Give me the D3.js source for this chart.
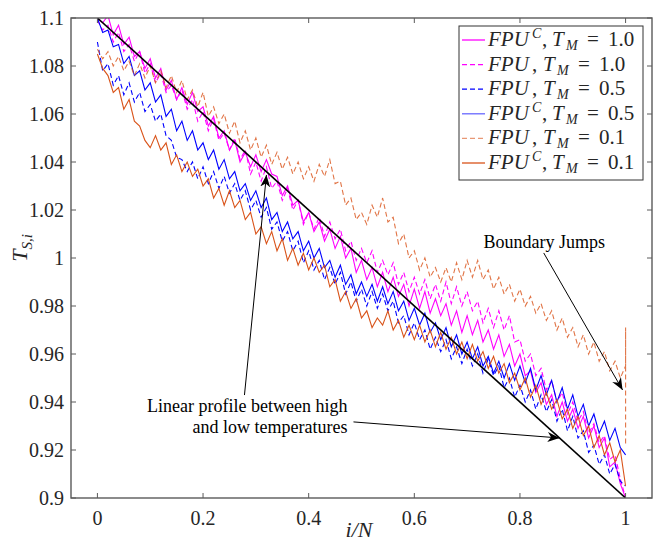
<!DOCTYPE html>
<html><head><meta charset="utf-8">
<script src="https://cdn.jsdelivr.net/npm/d3@7/dist/d3.min.js"></script>
<style>body{margin:0;background:#fff}</style></head>
<body>
<svg id="c" width="657" height="542"></svg>
<script>
// ---------- data ----------
const xTicks = [0, 0.2, 0.4, 0.6, 0.8, 1];
const yTicks = [0.9, 0.92, 0.94, 0.96, 0.98, 1, 1.02, 1.04, 1.06, 1.08, 1.1];
const nPts = 101; // samples at i/N, N = 100

const fpuc10 = [1.100,1.098,1.101,1.093,1.097,1.089,1.092,1.084,1.086,1.079,1.083,1.075,1.079,1.070,1.074,1.066,1.071,1.064,1.069,1.061,
1.063,1.055,1.059,1.050,1.053,1.045,1.049,1.040,1.044,1.038,1.043,1.036,1.041,1.035,1.034,1.026,1.030,1.022,1.024,1.015,
1.019,1.011,1.015,1.007,1.012,1.004,1.009,1.000,1.004,0.994,0.999,0.991,0.996,0.988,0.994,0.986,0.992,0.984,0.989,0.980,
0.987,0.979,0.986,0.977,0.983,0.976,0.981,0.972,0.978,0.969,0.976,0.968,0.974,0.965,0.970,0.962,0.968,0.959,0.964,0.955,
0.960,0.951,0.953,0.944,0.948,0.939,0.943,0.934,0.940,0.932,0.937,0.929,0.934,0.925,0.930,0.921,0.925,0.913,0.915,0.906,0.900];

const fpu10 = [1.099,1.095,1.097,1.090,1.094,1.086,1.089,1.082,1.086,1.077,1.081,1.073,1.077,1.069,1.072,1.066,1.070,1.062,1.066,1.057,
1.061,1.053,1.058,1.049,1.052,1.045,1.050,1.041,1.045,1.035,1.040,1.032,1.038,1.029,1.032,1.024,1.029,1.020,1.024,1.014,
1.019,1.012,1.017,1.009,1.015,1.008,1.012,1.003,1.007,0.999,1.004,0.998,1.003,0.994,0.999,0.993,0.998,0.989,0.994,0.986,
0.992,0.985,0.991,0.983,0.989,0.982,0.990,0.981,0.988,0.980,0.986,0.978,0.982,0.973,0.979,0.971,0.978,0.970,0.976,0.965,
0.966,0.957,0.960,0.951,0.954,0.945,0.949,0.940,0.944,0.935,0.940,0.932,0.936,0.927,0.931,0.923,0.926,0.916,0.918,0.908,0.900];

const fpu05 = [1.090,1.078,1.081,1.072,1.076,1.068,1.073,1.065,1.069,1.061,1.064,1.057,1.060,1.051,1.049,1.042,1.041,1.036,1.040,1.033,
1.038,1.031,1.036,1.029,1.034,1.027,1.031,1.024,1.028,1.020,1.024,1.017,1.021,1.012,1.015,1.007,1.011,1.003,1.007,0.998,
1.003,0.995,0.999,0.991,0.996,0.989,0.994,0.985,0.990,0.982,0.987,0.980,0.986,0.979,0.985,0.978,0.982,0.973,0.976,0.968,
0.973,0.966,0.970,0.962,0.967,0.961,0.966,0.958,0.963,0.956,0.962,0.955,0.960,0.952,0.958,0.951,0.955,0.946,0.950,0.942,
0.947,0.940,0.945,0.937,0.943,0.936,0.941,0.932,0.937,0.928,0.934,0.925,0.928,0.919,0.922,0.914,0.918,0.910,0.914,0.907,0.905];

const fpuc05 = [1.100,1.094,1.095,1.088,1.089,1.081,1.084,1.076,1.078,1.070,1.073,1.065,1.068,1.059,1.062,1.053,1.057,1.049,1.053,1.045,
1.048,1.041,1.045,1.037,1.041,1.033,1.036,1.028,1.031,1.024,1.028,1.021,1.025,1.016,1.019,1.011,1.015,1.008,1.011,1.003,
1.007,1.000,1.004,0.996,0.999,0.992,0.997,0.989,0.993,0.985,0.990,0.984,0.989,0.982,0.988,0.981,0.986,0.978,0.982,0.974,
0.979,0.972,0.977,0.969,0.973,0.966,0.971,0.963,0.968,0.960,0.965,0.958,0.963,0.955,0.959,0.952,0.957,0.950,0.956,0.949,
0.955,0.948,0.954,0.945,0.951,0.943,0.949,0.940,0.946,0.937,0.943,0.934,0.939,0.930,0.935,0.927,0.932,0.924,0.929,0.921,0.918];

const fpu01 = [1.087,1.083,1.086,1.080,1.084,1.078,1.082,1.076,1.081,1.075,1.080,1.073,1.078,1.071,1.076,1.069,1.074,1.066,1.070,1.063,
1.069,1.059,1.063,1.056,1.060,1.052,1.057,1.048,1.053,1.045,1.050,1.042,1.047,1.039,1.044,1.037,1.042,1.035,1.040,1.033,
1.038,1.032,1.039,1.034,1.041,1.031,1.032,1.022,1.025,1.016,1.019,1.014,1.022,1.017,1.025,1.015,1.017,1.006,1.010,1.000,
1.003,0.995,1.000,0.992,0.996,0.990,0.996,0.990,0.998,0.991,0.999,0.992,0.999,0.991,0.995,0.987,0.992,0.985,0.989,0.982,
0.987,0.980,0.984,0.977,0.981,0.974,0.978,0.970,0.975,0.967,0.971,0.963,0.968,0.960,0.965,0.957,0.961,0.953,0.957,0.950,0.955];
const fpu01Jump = [0.971, 0.922]; // extra values at i/N = 1

const fpuc01 = [1.085,1.079,1.076,1.069,1.071,1.062,1.066,1.057,1.055,1.049,1.046,1.051,1.045,1.048,1.039,1.043,1.036,1.040,1.034,1.037,
1.030,1.033,1.025,1.029,1.022,1.028,1.021,1.024,1.016,1.019,1.010,1.013,1.006,1.011,1.003,1.008,0.999,1.004,0.997,1.002,
0.995,1.000,0.994,0.997,0.988,0.991,0.982,0.986,0.979,0.983,0.975,0.978,0.971,0.975,0.972,0.978,0.970,0.974,0.967,0.972,
0.966,0.972,0.965,0.970,0.963,0.969,0.962,0.967,0.960,0.965,0.958,0.964,0.957,0.961,0.954,0.959,0.952,0.956,0.948,0.952,
0.945,0.950,0.942,0.947,0.939,0.944,0.937,0.941,0.933,0.937,0.929,0.934,0.926,0.930,0.921,0.926,0.918,0.923,0.915,0.920,0.905];

const linearProfile = [[0, 1.1], [1, 0.9]];

const seriesLabels = ["FPU^C,T_M=1.0","FPU,T_M=1.0","FPU,T_M=0.5","FPU^C,T_M=0.5","FPU,T_M=0.1","FPU^C,T_M=0.1"];
const seriesColors = ["#FF00FF","#FF00FF","#0000FF","#0000FF","#D95319","#D95319"];
const seriesDashed = [false,true,true,false,true,false];

// annotations (data coordinates)
const annBoundary = {text:"Boundary Jumps", x:0.731, y:1.0042, from:[0.845,1.0021], to:[0.9943,0.945]};
const annLinear = {lines:["Linear profile between high","and low temperatures"], x:0.4735, y:[0.9358,0.9271],
  arrows:[{from:[0.2784,0.9429], to:[0.320,1.0346]},{from:[0.4848,0.9317], to:[0.875,0.925]}]};

// ---------- drawing ----------
const svg = d3.select("#c");
const L = 71, R = 652, T = 18, B = 498;
const x = d3.scaleLinear().domain([-0.05, 1.05]).range([L, R]);
const y = d3.scaleLinear().domain([0.9, 1.1]).range([B, T]);
const axisColor = "#5a5a5a", textColor = "#262626";
const serif = "'Liberation Serif','Times New Roman',serif";

svg.append("defs").append("clipPath").attr("id","clip")
  .append("rect").attr("x",L).attr("y",T).attr("width",R-L).attr("height",B-T);

const allSeries = [fpuc10, fpu10, fpu05, fpuc05, fpu01, fpuc01];
const line = d3.line().x(d=>x(d[0])).y(d=>y(d[1]));
const g = svg.append("g").attr("clip-path","url(#clip)");
allSeries.forEach((vals, k) => {
  let pts = vals.map((v,i)=>[i/(nPts-1), v]);
  if (k === 4) fpu01Jump.forEach(v => pts.push([1, v]));
  g.append("path").attr("d", line(pts)).attr("fill","none")
    .attr("stroke", seriesColors[k]).attr("stroke-width", 1.1)
    .attr("stroke-opacity", k===4 ? 0.8 : 1)
    .attr("stroke-dasharray", seriesDashed[k] ? "5,3" : null);
});
g.append("path").attr("d", line(linearProfile)).attr("fill","none")
  .attr("stroke","#000").attr("stroke-width",1.6);

// axes box
const ax = svg.append("g");
ax.append("rect").attr("x",L).attr("y",T).attr("width",R-L).attr("height",B-T)
  .attr("fill","none").attr("stroke",axisColor).attr("stroke-width",1.4);
const tl = 5;
xTicks.forEach(t => {
  ax.append("line").attr("x1",x(t)).attr("x2",x(t)).attr("y1",B).attr("y2",B-tl).attr("stroke",axisColor);
  ax.append("line").attr("x1",x(t)).attr("x2",x(t)).attr("y1",T).attr("y2",T+tl).attr("stroke",axisColor);
  ax.append("text").attr("x",x(t)).attr("y",525).attr("text-anchor","middle")
    .attr("font-family",serif).attr("font-size",20).attr("fill",textColor).text(d3.format("~g")(t));
});
yTicks.forEach(t => {
  ax.append("line").attr("x1",L).attr("x2",L+tl).attr("y1",y(t)).attr("y2",y(t)).attr("stroke",axisColor);
  ax.append("line").attr("x1",R).attr("x2",R-tl).attr("y1",y(t)).attr("y2",y(t)).attr("stroke",axisColor);
  ax.append("text").attr("x",64).attr("y",y(t)).attr("dy","0.34em").attr("text-anchor","end")
    .attr("font-family",serif).attr("font-size",20).attr("fill",textColor).text(d3.format("~g")(t));
});

// axis labels
const xl = svg.append("text").attr("x",359).attr("y",537).attr("text-anchor","middle")
  .attr("font-family",serif).attr("font-size",22).attr("fill",textColor).attr("font-style","italic");
xl.text("i/N");
const yl = svg.append("text").attr("transform","translate(27,248) rotate(-90)").attr("text-anchor","middle")
  .attr("font-family",serif).attr("font-size",22).attr("fill",textColor);
yl.append("tspan").attr("font-style","italic").text("T");
yl.append("tspan").attr("font-size",15).attr("dy",5).attr("font-style","italic").text("S,i");

// arrows
const defs = svg.select("defs");
defs.append("marker").attr("id","ah").attr("viewBox","0 0 12 10").attr("refX",12).attr("refY",5)
  .attr("markerWidth",12).attr("markerHeight",10).attr("markerUnits","userSpaceOnUse").attr("orient","auto")
  .append("path").attr("d","M0,0 L12,5 L0,10 L3.5,5 Z").attr("fill","#000");
function arrow(a){
  svg.append("line").attr("x1",x(a.from[0])).attr("y1",y(a.from[1])).attr("x2",x(a.to[0])).attr("y2",y(a.to[1]))
    .attr("stroke","#000").attr("stroke-width",1).attr("marker-end","url(#ah)");
}
arrow(annBoundary);
annLinear.arrows.forEach(arrow);
svg.append("text").attr("x",x(annBoundary.x)).attr("y",y(annBoundary.y))
  .attr("font-family",serif).attr("font-size",18).attr("fill","#000").text(annBoundary.text);
annLinear.lines.forEach((s,i)=>{
  svg.append("text").attr("x",x(annLinear.x)).attr("y",y(annLinear.y[i])).attr("text-anchor","end")
    .attr("font-family",serif).attr("font-size",18).attr("fill","#000").text(s);
});

// legend
const lg = svg.append("g");
lg.append("rect").attr("x",459).attr("y",26).attr("width",184).attr("height",154)
  .attr("fill","#fff").attr("stroke","#333").attr("stroke-width",1);
seriesLabels.forEach((lab,k)=>{
  const cy = 40 + k*24.6, by = cy + 6;
  lg.append("line").attr("x1",462).attr("x2",485).attr("y1",cy).attr("y2",cy)
    .attr("stroke",seriesColors[k]).attr("stroke-width",1.3)
    .attr("stroke-opacity", (k===4) ? 0.6 : (k===3 ? 0.6 : 1))
    .attr("stroke-dasharray", seriesDashed[k] ? "5,3" : null);
  const hasC = lab.indexOf("^C")>=0;
  const val = lab.split("=")[1];
  const o = hasC ? 0 : -9;
  const t = lg.append("text").attr("font-family",serif).attr("font-size",21).attr("fill",textColor);
  t.append("tspan").attr("x",488).attr("y",by).attr("font-style","italic").text("FPU");
  if (hasC) t.append("tspan").attr("x",532).attr("y",by-8).attr("font-style","italic").attr("font-size",14).text("C");
  t.append("tspan").attr("x",hasC?542:532).attr("y",by).text(",");
  t.append("tspan").attr("x",552+o).attr("y",by).attr("font-style","italic").text("T");
  t.append("tspan").attr("x",566+o).attr("y",by+4).attr("font-style","italic").attr("font-size",14).text("M");
  t.append("tspan").attr("x",587+o).attr("y",by).text("=");
  t.append("tspan").attr("x",608+o).attr("y",by).text(val);
});
</script>
</body></html>
